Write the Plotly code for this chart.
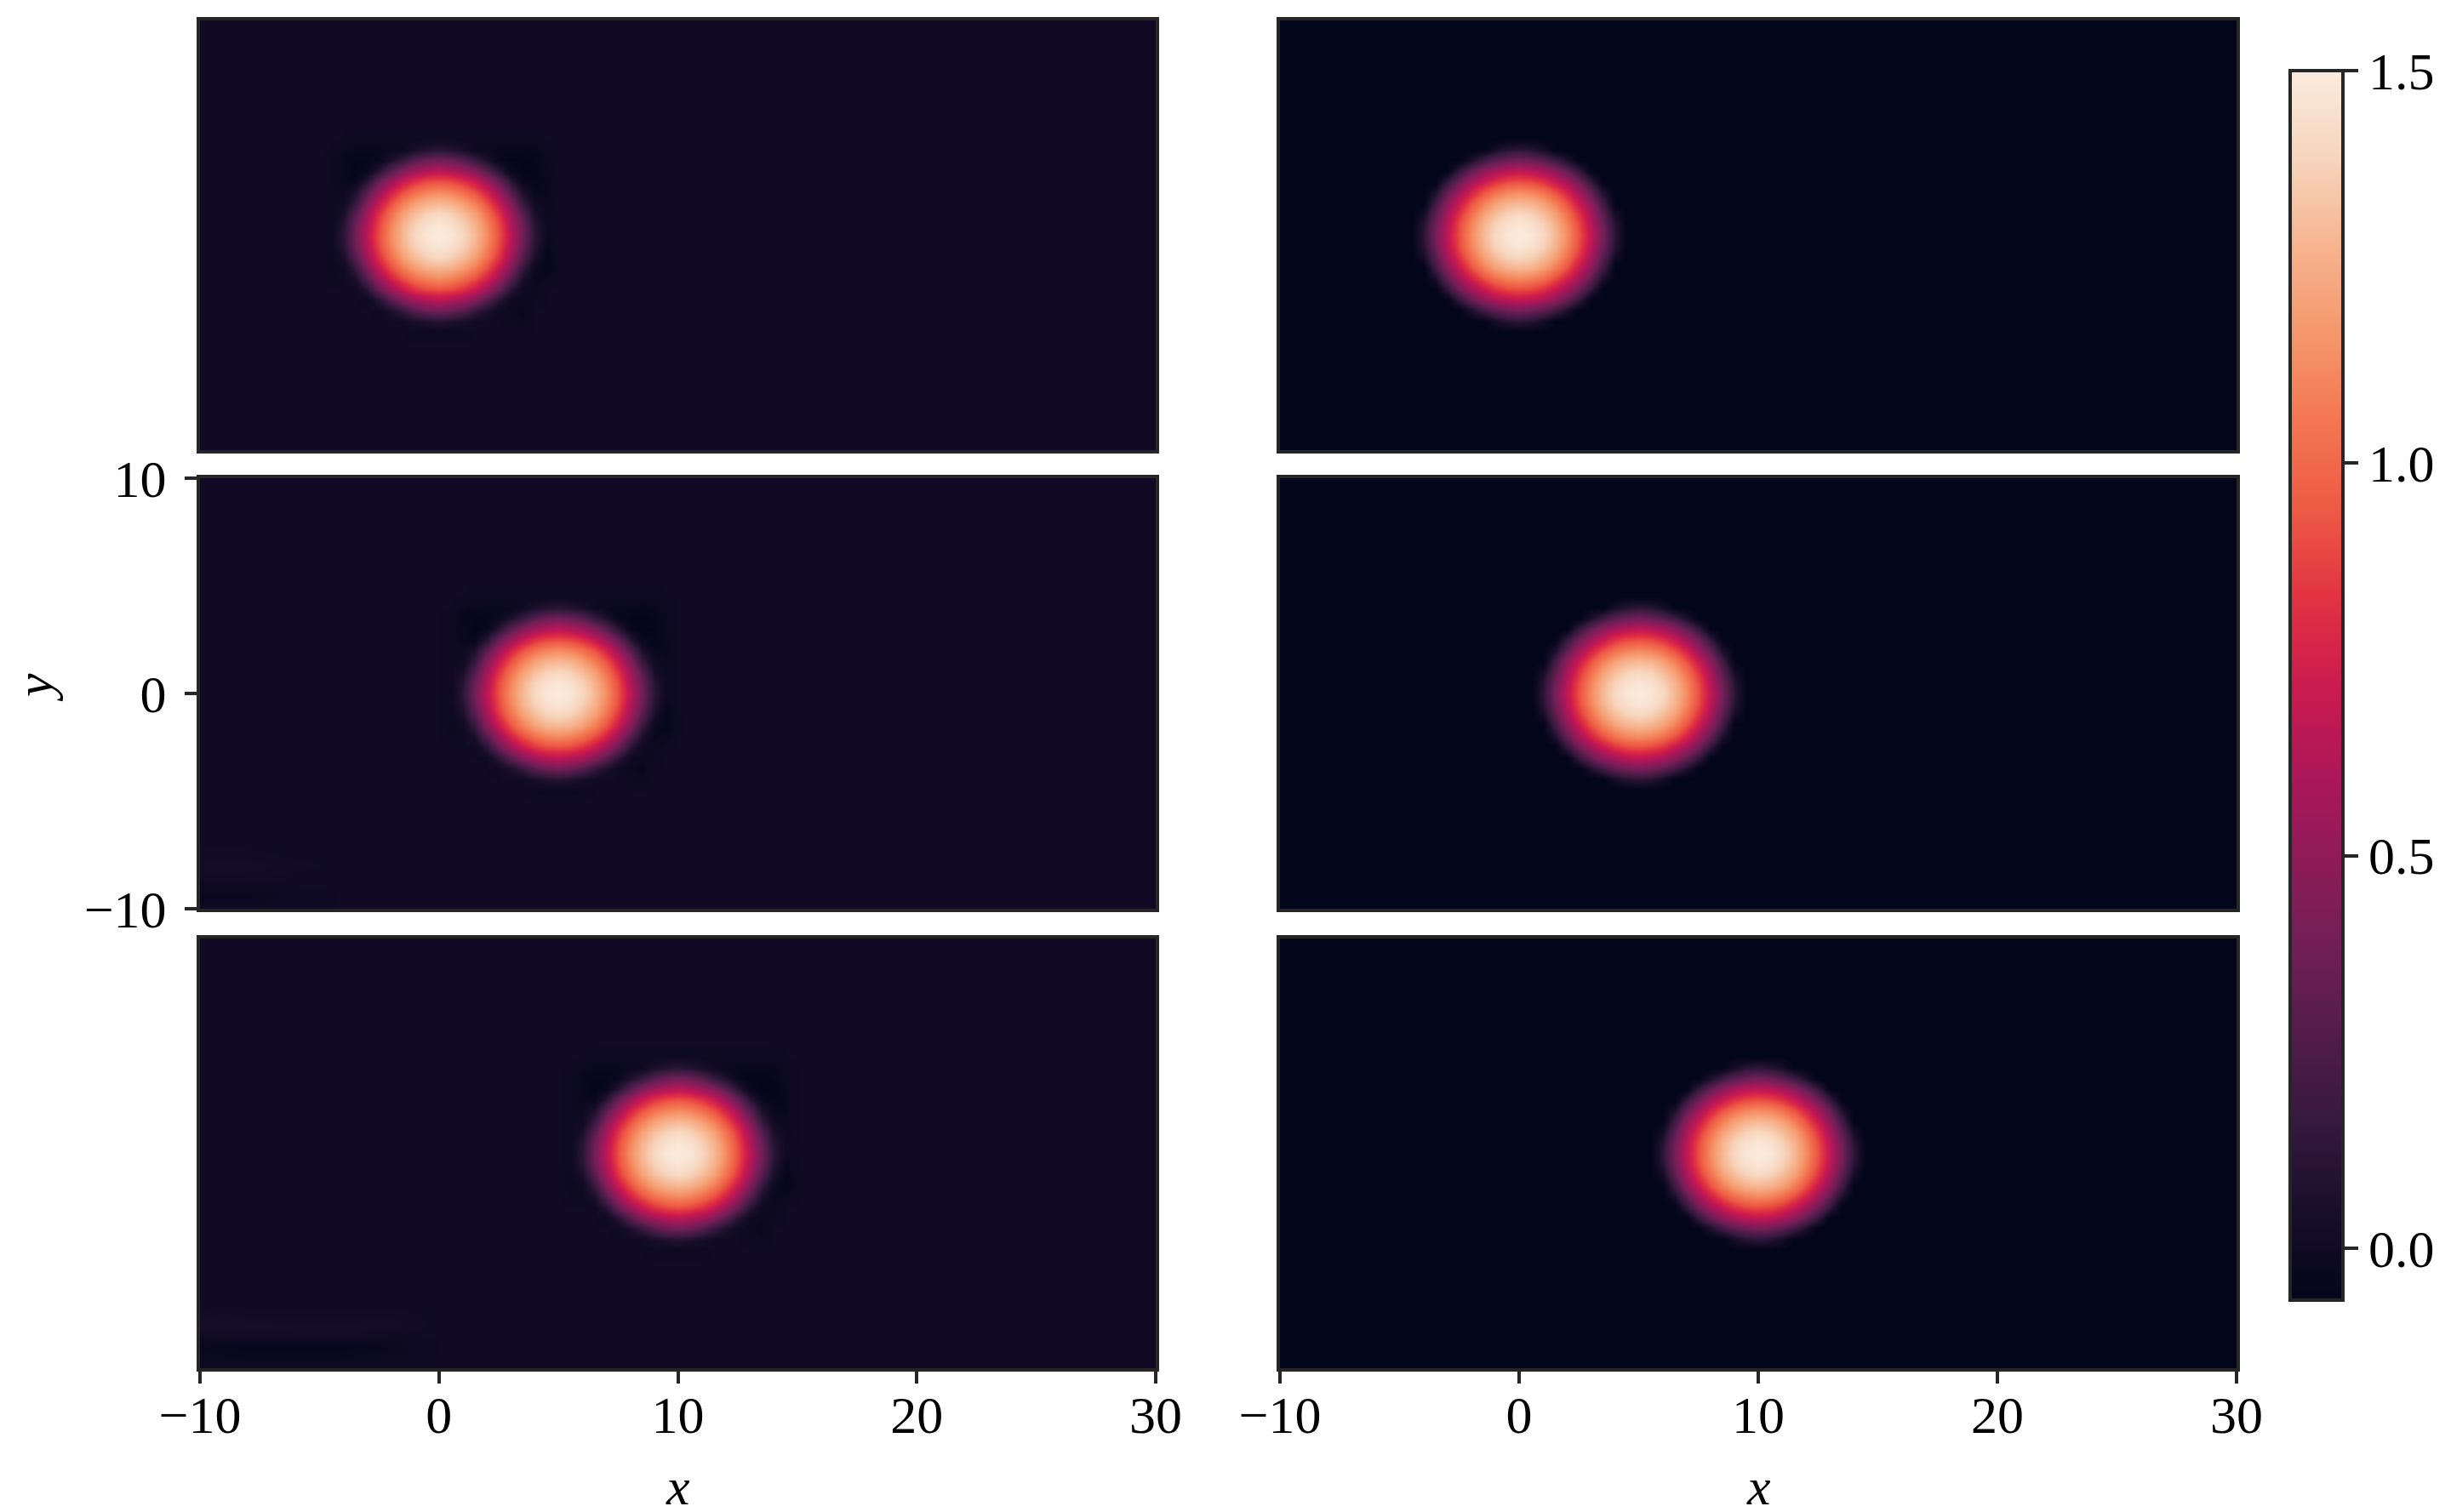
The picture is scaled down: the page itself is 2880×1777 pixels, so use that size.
import numpy as np
import plotly.graph_objects as go

# Values
centers = [0, 5, 10]
x_ticks = [-10, 0, 10, 20, 30]
y_ticks = [-10, 0, 10]
cbar_ticks = [0.0, 0.5, 1.0, 1.5]
z_min = -0.066
z_max = 1.5

left_bg = 0.0
right_bg = -0.07

# left blob (numerical), top row is y=+5, bottom row is y=-5, steps of 0.5
left_off = [-5, -4.5, -4, -3.5, -3, -2.5, -2, -1.5, -1, -0.5, 0, 0.5, 1, 1.5, 2, 2.5, 3, 3.5, 4, 4.5, 5]
left_blob = [
    [0, 0, 0, 0, 0, 0, 0, 0, 0, 0, 0, 0, 0, 0, 0, 0, 0, 0, 0, 0, 0],
    [0, 0, 0, -.01, -.01, -.01, -.01, -.01, -.01, -.01, -.01, -.01, -.01, -.01, -.01, -.01, -.01, -.01, -.01, 0, 0],
    [0, 0, -.02, -.03, -.03, -.03, -.02, -.01, .05, .09, .11, .09, .05, -.01, -.02, -.03, -.03, -.04, -.03, -.01, 0],
    [0, -.01, -.04, -.05, -.05, -.03, .06, .16, .28, .36, .38, .36, .28, .16, .06, -.04, -.06, -.06, -.05, -.02, 0],
    [0, -.01, -.03, -.06, -.04, .11, .29, .45, .56, .62, .66, .62, .56, .45, .29, .11, -.04, -.06, -.06, -.02, 0],
    [0, -.01, -.03, -.04, .11, .35, .54, .70, .82, .89, .91, .89, .82, .70, .54, .35, .11, -.04, -.05, -.03, 0],
    [0, -.01, -.01, .06, .29, .54, .75, .91, 1.03, 1.10, 1.13, 1.10, 1.03, .91, .75, .54, .29, .06, -.03, -.03, 0],
    [0, -.01, 0, .16, .45, .70, .91, 1.08, 1.20, 1.27, 1.29, 1.27, 1.20, 1.08, .91, .70, .45, .16, 0, -.02, 0],
    [0, -.01, .05, .28, .56, .82, 1.03, 1.20, 1.31, 1.38, 1.41, 1.38, 1.31, 1.20, 1.03, .82, .56, .28, .05, -.02, 0],
    [0, -.01, .10, .36, .62, .89, 1.10, 1.27, 1.38, 1.45, 1.48, 1.45, 1.38, 1.27, 1.10, .89, .62, .36, .10, -.01, 0],
    [0, -.01, .12, .38, .66, .91, 1.13, 1.29, 1.41, 1.48, 1.50, 1.48, 1.41, 1.29, 1.13, .91, .66, .38, .12, -.01, 0],
    [0, -.01, .10, .36, .62, .89, 1.10, 1.27, 1.38, 1.45, 1.48, 1.45, 1.38, 1.27, 1.10, .89, .62, .36, .10, -.03, 0],
    [0, -.02, .05, .28, .56, .82, 1.03, 1.20, 1.31, 1.38, 1.41, 1.38, 1.31, 1.20, 1.03, .82, .56, .28, .05, -.05, 0],
    [0, -.02, 0, .16, .45, .70, .91, 1.08, 1.20, 1.27, 1.29, 1.27, 1.20, 1.08, .91, .70, .45, .16, -.02, -.05, -.01],
    [0, -.01, -.01, .06, .29, .54, .75, .91, 1.03, 1.10, 1.13, 1.10, 1.03, .91, .75, .54, .29, .06, -.03, -.02, 0],
    [0, 0, 0, -.01, .11, .35, .54, .70, .82, .89, .91, .89, .82, .70, .54, .35, .11, -.01, -.02, 0, 0],
    [0, 0, 0, 0, -.01, .11, .29, .45, .56, .62, .66, .62, .56, .45, .29, .11, -.01, -.02, -.01, 0, 0],
    [0, 0, 0, 0, 0, -.01, .06, .16, .28, .36, .38, .36, .28, .16, .06, -.01, -.02, -.03, 0, 0, 0],
    [0, 0, 0, 0, 0, 0, 0, 0, .04, .07, .09, .07, .04, 0, 0, 0, -.01, -.02, 0, 0, 0],
    [0, 0, 0, 0, 0, 0, 0, 0, -.01, -.02, -.02, -.02, -.01, 0, 0, 0, 0, 0, 0, 0, 0],
    [0, 0, 0, 0, 0, 0, 0, 0, 0, 0, 0, 0, 0, 0, 0, 0, 0, 0, 0, 0, 0],
]

# right blob (exact), one quarter, first row is y=0, first column is x=0
right_off = [-4.5, -4, -3.5, -3, -2.5, -2, -1.5, -1, -0.5, 0, 0.5, 1, 1.5, 2, 2.5, 3, 3.5, 4, 4.5]
right_quarter = [
    [1.50, 1.48, 1.41, 1.29, 1.13, .91, .67, .40, .12, -.07],
    [1.48, 1.45, 1.38, 1.27, 1.10, .89, .64, .37, .10, -.07],
    [1.41, 1.38, 1.31, 1.20, 1.03, .82, .58, .30, .03, -.07],
    [1.29, 1.27, 1.20, 1.08, .91, .70, .48, .20, -.07, -.07],
    [1.13, 1.10, 1.03, .91, .75, .56, .33, .06, -.07, -.07],
    [.91, .89, .82, .70, .56, .38, .15, -.07, -.07, -.07],
    [.67, .64, .58, .48, .33, .15, -.07, -.07, -.07, -.07],
    [.40, .37, .30, .20, .06, -.07, -.07, -.07, -.07, -.07],
    [.12, .10, .03, -.07, -.07, -.07, -.07, -.07, -.07, -.07],
    [-.07, -.07, -.07, -.07, -.07, -.07, -.07, -.07, -.07, -.07],
]

# faint streaks at the lower left of the left column, first row is y=-10
streak_x = [-10, -8, -6, -4, -2, 0]
streak_y = [-10, -9.5, -9, -8.5, -8, -7.5, -7]
streaks_mid = [
    [0, 0, 0, 0, 0, 0],
    [-.03, -.03, -.01, 0, 0, 0],
    [-.01, -.01, 0, 0, 0, 0],
    [.01, .01, 0, 0, 0, 0],
    [.02, .02, .01, 0, 0, 0],
    [.01, .01, 0, 0, 0, 0],
    [0, 0, 0, 0, 0, 0],
]
streaks_low = [
    [0, 0, 0, 0, 0, 0],
    [-.02, -.03, -.03, -.03, -.01, 0],
    [-.03, -.04, -.04, -.04, -.03, 0],
    [0, .01, .01, .01, 0, 0],
    [.04, .04, .03, .03, .02, 0],
    [.02, .01, .01, .01, .01, 0],
    [0, 0, 0, 0, 0, 0],
]

# rocket
colors = [
    [0.0, "#03051a"], [0.07, "#180e2a"], [1 / 7, "#35193e"], [2 / 7, "#701f57"],
    [3 / 7, "#ad1759"], [0.5, "#cb1b4f"], [4 / 7, "#e13342"], [0.643, "#ed5a45"],
    [5 / 7, "#f37651"], [0.786, "#f5976c"], [6 / 7, "#f6b48f"], [0.93, "#f7d5bd"],
    [1.0, "#faebdd"],
]

# the page keeps an 8px body margin, so the figure is that much smaller
PAGE = 8
W, H = 2880 - 2 * PAGE, 1777 - 2 * PAGE
col_px = [(235, 1358), (1504, 2628)]
row_px = [(24, 529), (562, 1068), (1103, 1608)]
LINE = "#262626"
FONT = "Liberation Serif"

q = np.array(right_quarter)
right_half = np.hstack([q[:, :0:-1], q])
right_blob = np.vstack([right_half[:0:-1], right_half])
left_arr = np.array(left_blob)[::-1]

fig = go.Figure()


def heat(x, y, z, ax):
    fig.add_trace(go.Heatmap(x=x, y=y, z=z, zsmooth="best", coloraxis="coloraxis",
                             xaxis="x" + ax, yaxis="y" + ax, hoverinfo="skip"))


layout = {}
for c in range(2):
    for r in range(3):
        n = r * 2 + c + 1
        ax = str(n) if n > 1 else ""
        bg = left_bg if c == 0 else right_bg
        heat([-10, 30], [-10, 10], [[bg, bg], [bg, bg]], ax)
        if c == 0:
            if r == 1:
                heat(streak_x, streak_y, streaks_mid, ax)
            if r == 2:
                heat(streak_x, streak_y, streaks_low, ax)
            heat([centers[r] + d for d in left_off], left_off, left_arr, ax)
        else:
            heat([centers[r] + d for d in right_off], right_off, right_blob, ax)
        bottom = r == 2
        side = r == 1 and c == 0
        layout["xaxis" + ax] = dict(
            domain=[(col_px[c][0] - PAGE) / W, (col_px[c][1] - PAGE) / W], range=[-10, 30], anchor="y" + ax,
            tickvals=x_ticks if bottom else [], ticks="outside" if bottom else "",
            ticklen=14, tickwidth=4, tickcolor=LINE, showticklabels=bottom, ticklabelstandoff=-16,
            tickfont=dict(family=FONT, size=62, color="black"),
            showline=True, mirror=True, linewidth=4, linecolor=LINE, showgrid=False, zeroline=False,
        )
        layout["yaxis" + ax] = dict(
            domain=[1 - (row_px[r][1] - PAGE) / H, 1 - (row_px[r][0] - PAGE) / H], range=[-10, 10], anchor="x" + ax,
            tickvals=y_ticks if side else [], ticks="outside" if side else "",
            ticklen=14, tickwidth=4, tickcolor=LINE, showticklabels=side, ticklabelstandoff=9,
            tickfont=dict(family=FONT, size=62, color="black"),
            showline=True, mirror=True, linewidth=4, linecolor=LINE, showgrid=False, zeroline=False,
        )

label_font = dict(family=FONT, size=62, color="black")
labels = [
    dict(text="<i>x</i>", x=(sum(col_px[0]) / 2 - PAGE) / W, y=1 - (1747 - PAGE) / H, textangle=0),
    dict(text="<i>x</i>", x=(sum(col_px[1]) / 2 - PAGE) / W, y=1 - (1747 - PAGE) / H, textangle=0),
    dict(text="<i>y</i>", x=(40 - PAGE) / W, y=1 - (808 - PAGE) / H, textangle=-90),
]
for a in labels:
    a.update(xref="paper", yref="paper", xanchor="center", yanchor="middle", showarrow=False, font=label_font)

fig.update_layout(
    width=W, height=H, margin=dict(l=0, r=0, t=0, b=0, autoexpand=False),
    paper_bgcolor="white", plot_bgcolor="white", showlegend=False,
    annotations=labels,
    coloraxis=dict(
        cmin=z_min, cmax=z_max, colorscale=colors,
        colorbar=dict(
            x=(2691 - PAGE) / W, xanchor="left", y=1 - (805.5 - PAGE) / H, yanchor="middle",
            thicknessmode="pixels", thickness=62, lenmode="pixels", len=1445,
            xpad=0, ypad=0, outlinewidth=4, outlinecolor=LINE,
            tickvals=cbar_ticks, tickformat=".1f", ticks="outside", ticklen=16, tickwidth=4, tickcolor=LINE,
            tickfont=dict(family=FONT, size=62, color="black"),
        ),
    ),
    **layout,
)

fig.write_html("out.html")
